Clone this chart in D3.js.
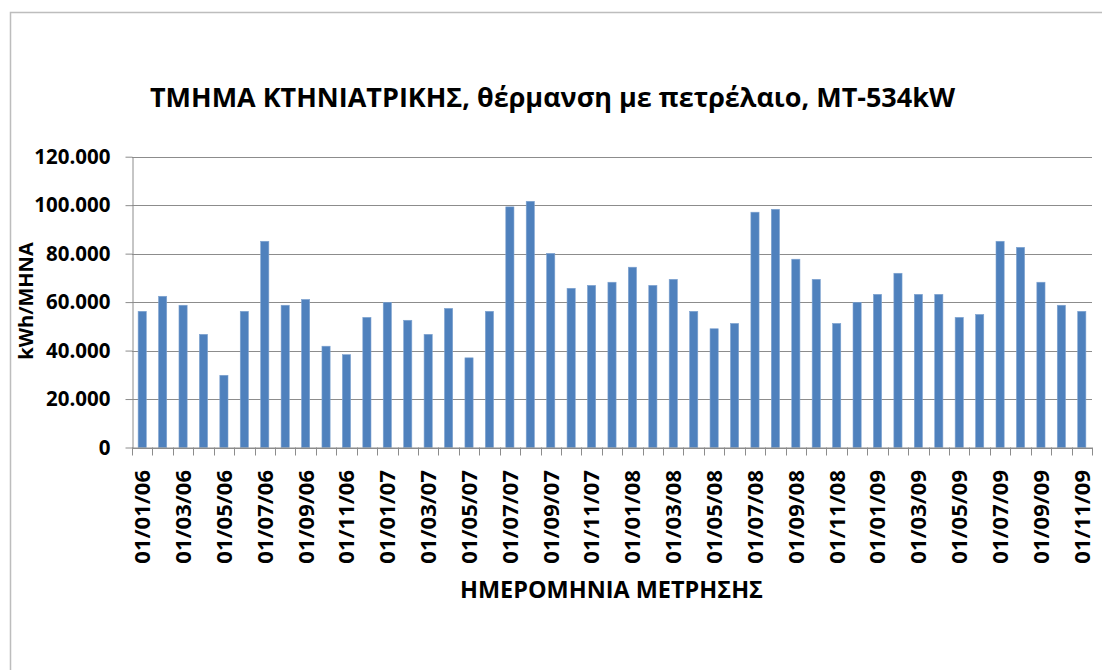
<!DOCTYPE html>
<html>
<head>
<meta charset="utf-8">
<script src="https://cdn.jsdelivr.net/npm/d3@7"></script>
<style>
  body { margin: 0; background: #fff; }
  text { font-family: "Open Sans", "DejaVu Sans", sans-serif; font-weight: bold; fill: #000; }
</style>
</head>
<body>
<svg id="chart" width="1102" height="670"></svg>
<script>
const categories = [
  "01/01/06","01/02/06","01/03/06","01/04/06","01/05/06","01/06/06","01/07/06","01/08/06","01/09/06","01/10/06","01/11/06","01/12/06",
  "01/01/07","01/02/07","01/03/07","01/04/07","01/05/07","01/06/07","01/07/07","01/08/07","01/09/07","01/10/07","01/11/07","01/12/07",
  "01/01/08","01/02/08","01/03/08","01/04/08","01/05/08","01/06/08","01/07/08","01/08/08","01/09/08","01/10/08","01/11/08","01/12/08",
  "01/01/09","01/02/09","01/03/09","01/04/09","01/05/09","01/06/09","01/07/09","01/08/09","01/09/09","01/10/09","01/11/09"
];
const values = [
  56200, 62400, 58700, 46700, 29800, 56200, 85100, 58700, 61100, 41800, 38300, 53700,
  59900, 52500, 46700, 57400, 37000, 56200, 99300, 101600, 80100, 65700, 66900, 68200,
  74400, 66900, 69400, 56200, 49000, 51200, 97100, 98300, 77700, 69400, 51200, 59900,
  63200, 71900, 63200, 63200, 53700, 54900, 85100, 82600, 68200, 58700, 56200
];
const yTicks = [0, 20000, 40000, 60000, 80000, 100000, 120000];
const yTickLabels = ["0", "20.000", "40.000", "60.000", "80.000", "100.000", "120.000"];
const titleText = "ΤΜΗΜΑ ΚΤΗΝΙΑΤΡΙΚΗΣ, θέρμανση με πετρέλαιο, ΜΤ-534kW";
const xTitleText = "ΗΜΕΡΟΜΗΝΙΑ ΜΕΤΡΗΣΗΣ";
const yTitleText = "kWh/MHNA";

const svg = d3.select("#chart");

// outer chart border
svg.append("rect").attr("x", 10.5).attr("y", 12.5).attr("width", 1200).attr("height", 800)
  .attr("fill", "#fff").attr("stroke", "#bdbdbd").attr("stroke-width", 1.5);

const pLeft = 132, pRight = 1092, pTop = 156.7, pBottom = 447.5;

const x = d3.scaleBand().domain(categories).range([pLeft, pRight]).paddingInner(0.6).paddingOuter(0.3);
const y = d3.scaleLinear().domain([0, 120000]).range([pBottom, pTop]);

// gridlines
svg.append("g").selectAll("line").data(yTicks).join("line")
  .attr("x1", pLeft).attr("x2", pRight)
  .attr("y1", d => Math.round(y(d)) + 0.5).attr("y2", d => Math.round(y(d)) + 0.5)
  .attr("stroke", "#8c8c8c").attr("stroke-width", 1);

// bars
svg.append("g").selectAll("rect").data(values).join("rect")
  .attr("x", (d, i) => x(categories[i]))
  .attr("width", x.bandwidth())
  .attr("y", d => y(d))
  .attr("height", d => y(0) - y(d))
  .attr("fill", "#4f81bd")
  .attr("stroke", "#7fa3d0").attr("stroke-width", 0.6);

// y axis
const yAxis = d3.axisLeft(y).tickValues(yTicks).tickSize(7).tickSizeOuter(0)
  .tickFormat((d, i) => yTickLabels[i]);
const gy = svg.append("g").attr("transform", `translate(${pLeft + 0.5},0)`).call(yAxis);
gy.select(".domain").attr("stroke", "#8c8c8c");
gy.selectAll(".tick line").attr("stroke", "#8c8c8c");
gy.selectAll(".tick text").attr("x", -22).attr("font-size", 20.5)
  .attr("font-family", "'Open Sans', sans-serif").attr("font-weight", "bold").attr("fill", "#000");

// x axis: ticks at category boundaries
const step = (pRight - pLeft) / categories.length;
svg.append("line").attr("x1", pLeft).attr("x2", pRight)
  .attr("y1", pBottom + 0.5).attr("y2", pBottom + 0.5).attr("stroke", "#8c8c8c");
svg.append("g").selectAll("line").data(d3.range(categories.length + 1)).join("line")
  .attr("x1", i => Math.round(pLeft + i * step) + 0.5).attr("x2", i => Math.round(pLeft + i * step) + 0.5)
  .attr("y1", pBottom).attr("y2", pBottom + 8).attr("stroke", "#8c8c8c");

// x labels (every other category)
svg.append("g").selectAll("text").data(categories.filter((c, i) => i % 2 === 0)).join("text")
  .attr("transform", d => `translate(${x(d) + x.bandwidth() / 2},470) rotate(-90)`)
  .attr("text-anchor", "end").attr("dy", "0.36em")
  .attr("font-size", 22)
  .text(d => d);

// title
svg.append("text").attr("x", 552.5).attr("y", 107).attr("text-anchor", "middle")
  .attr("font-size", 27).attr("textLength", 805).attr("lengthAdjust", "spacingAndGlyphs")
  .text(titleText);

// x axis title
svg.append("text").attr("x", 611.5).attr("y", 598).attr("text-anchor", "middle")
  .attr("font-size", 23).attr("textLength", 303).attr("lengthAdjust", "spacingAndGlyphs")
  .text(xTitleText);

// y axis title
svg.append("text").attr("transform", "translate(33,301) rotate(-90)").attr("text-anchor", "middle")
  .attr("font-size", 20).text(yTitleText);
</script>
</body>
</html>
